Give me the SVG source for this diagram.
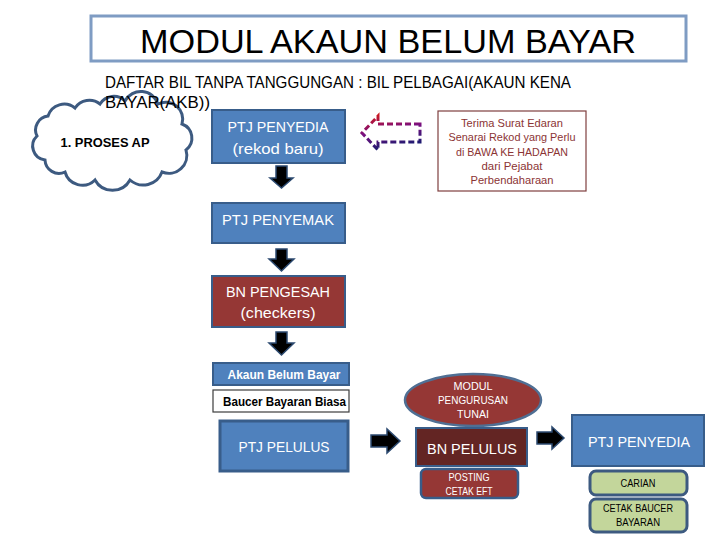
<svg xmlns="http://www.w3.org/2000/svg" width="720" height="540" viewBox="0 0 720 540">
<defs>
<style>
text{font-family:"Liberation Sans",Arial,sans-serif;}
.blue{fill:#4f81bd;stroke:#385d8a;stroke-width:2;}
.red{fill:#953735;stroke:#385d8a;stroke-width:2;}
.wt{fill:#ffffff;text-anchor:middle;}
.bk{fill:#000000;text-anchor:middle;}
.arr{fill:#000000;stroke:#2c4a70;stroke-width:1.5;}
.tr{fill:#8b3434;text-anchor:middle;font-size:11px;}
.green{fill:#c3d69b;stroke:#3d5a80;stroke-width:3;}
</style>
<linearGradient id="grad" x1="0" y1="0" x2="0.3" y2="1">
<stop offset="0" stop-color="#d01818"/>
<stop offset="0.5" stop-color="#7a1080"/>
<stop offset="1" stop-color="#1c1a70"/>
</linearGradient>
</defs>
<rect width="720" height="540" fill="#ffffff"/>

<g id="title">
<rect x="91" y="16" width="595" height="45" fill="#ffffff" stroke="#7f9cc3" stroke-width="3"/>
<text x="388" y="53" font-size="34" text-anchor="middle" textLength="496" lengthAdjust="spacingAndGlyphs" fill="#000">MODUL AKAUN BELUM BAYAR</text>
</g>

<g id="cloud">
<path d="M45,160 A14,14 0 0 1 37,136 A14,14 0 0 1 48,116 A17,17 0 0 1 75,108 A17,17 0 0 1 100,104 A16,16 0 0 1 125,101 A18,18 0 0 1 158,104 A17,17 0 0 1 182,124 A15,15 0 0 1 186,150 A18,18 0 0 1 162,172 A20,20 0 0 1 130,180 A20,20 0 0 1 95,180 A18,18 0 0 1 65,172 A14,14 0 0 1 45,160 Z" fill="#ffffff" stroke="#3d5a80" stroke-width="3"/>
<text x="105" y="147" font-size="13" font-weight="bold" text-anchor="middle" textLength="89" lengthAdjust="spacingAndGlyphs" fill="#000">1. PROSES AP</text>
</g>

<g id="subtitle">
<text x="105" y="88" font-size="16" textLength="466" lengthAdjust="spacingAndGlyphs" fill="#000">DAFTAR BIL TANPA TANGGUNGAN : BIL PELBAGAI(AKAUN KENA</text>
<text x="105" y="108" font-size="16" textLength="105" lengthAdjust="spacingAndGlyphs" fill="#000">BAYAR(AKB))</text>
</g>

<g id="ptj-penyedia-baru">
<rect class="blue" x="212" y="110" width="133" height="53"/>
<text class="wt" x="278" y="132" font-size="15" textLength="101" lengthAdjust="spacingAndGlyphs">PTJ PENYEDIA</text>
<text class="wt" x="278" y="154" font-size="15" textLength="91" lengthAdjust="spacingAndGlyphs">(rekod baru)</text>
</g>

<g id="terima">
<rect x="438" y="111" width="148" height="80" fill="#ffffff" stroke="#7f3f3f" stroke-width="1.2"/>
<text class="tr" x="512" y="127" textLength="102" lengthAdjust="spacingAndGlyphs">Terima Surat Edaran</text>
<text class="tr" x="512" y="141" textLength="127" lengthAdjust="spacingAndGlyphs">Senarai Rekod yang Perlu</text>
<text class="tr" x="512" y="156" textLength="112" lengthAdjust="spacingAndGlyphs">di BAWA KE HADAPAN</text>
<text class="tr" x="512" y="170" textLength="61" lengthAdjust="spacingAndGlyphs">dari Pejabat</text>
<text class="tr" x="512" y="184" textLength="83" lengthAdjust="spacingAndGlyphs">Perbendaharaan</text>
</g>

<g id="ptj-penyemak">
<rect class="blue" x="212" y="203" width="133" height="40"/>
<text class="wt" x="278" y="225" font-size="15" textLength="112" lengthAdjust="spacingAndGlyphs">PTJ PENYEMAK</text>
</g>

<g id="bn-pengesah">
<rect class="red" x="212" y="276" width="133" height="51"/>
<text class="wt" x="278" y="297" font-size="15" textLength="104" lengthAdjust="spacingAndGlyphs">BN PENGESAH</text>
<text class="wt" x="278" y="318" font-size="15" textLength="75" lengthAdjust="spacingAndGlyphs">(checkers)</text>
</g>

<g id="akaun-belum-bayar">
<rect class="blue" x="213" y="363" width="136" height="22"/>
<text class="wt" x="284" y="379" font-size="12" font-weight="bold" textLength="113" lengthAdjust="spacingAndGlyphs">Akaun Belum Bayar</text>
</g>

<g id="baucer-bayaran-biasa">
<rect x="213" y="390" width="136" height="22" fill="#ffffff" stroke="#3d3d3d" stroke-width="1.2"/>
<text class="bk" x="284.5" y="406" font-size="12" font-weight="bold" textLength="123" lengthAdjust="spacingAndGlyphs">Baucer Bayaran Biasa</text>
</g>

<g id="ptj-pelulus">
<rect x="220" y="421" width="128" height="50" fill="#4f81bd" stroke="#385d8a" stroke-width="3"/>
<text class="wt" x="284" y="452" font-size="15" textLength="91" lengthAdjust="spacingAndGlyphs">PTJ PELULUS</text>
</g>

<g id="modul-pengurusan-tunai">
<ellipse cx="473" cy="400" rx="68" ry="26" fill="#953735" stroke="#4f6f94" stroke-width="2.5"/>
<text class="wt" x="473" y="390" font-size="10.5" textLength="39" lengthAdjust="spacingAndGlyphs">MODUL</text>
<text class="wt" x="473" y="404" font-size="10.5" textLength="70" lengthAdjust="spacingAndGlyphs">PENGURUSAN</text>
<text class="wt" x="473" y="418" font-size="10.5" textLength="32" lengthAdjust="spacingAndGlyphs">TUNAI</text>
</g>

<g id="bn-pelulus">
<rect x="416" y="428" width="111" height="38" fill="#632523" stroke="#385d8a" stroke-width="2"/>
<text class="wt" x="472" y="454" font-size="15" textLength="90" lengthAdjust="spacingAndGlyphs">BN PELULUS</text>
</g>

<g id="posting-cetak-eft">
<rect x="421" y="469" width="97" height="29" rx="5" fill="#953735" stroke="#385d8a" stroke-width="2.5"/>
<text class="wt" x="469" y="481" font-size="10" textLength="41" lengthAdjust="spacingAndGlyphs">POSTING</text>
<text class="wt" x="469" y="495" font-size="10" textLength="47" lengthAdjust="spacingAndGlyphs">CETAK EFT</text>
</g>

<g id="ptj-penyedia">
<rect class="blue" x="572" y="415" width="132" height="51"/>
<text class="wt" x="639" y="447" font-size="15" textLength="102" lengthAdjust="spacingAndGlyphs">PTJ PENYEDIA</text>
</g>

<g id="carian">
<rect class="green" x="590" y="471" width="97" height="24" rx="6"/>
<text class="bk" x="638" y="487" font-size="10" textLength="35" lengthAdjust="spacingAndGlyphs">CARIAN</text>
</g>

<g id="cetak-baucer-bayaran">
<rect class="green" x="590" y="499" width="97" height="33" rx="6"/>
<text class="bk" x="638" y="512" font-size="10" textLength="70" lengthAdjust="spacingAndGlyphs">CETAK BAUCER</text>
<text class="bk" x="638" y="526" font-size="10" textLength="44" lengthAdjust="spacingAndGlyphs">BAYARAN</text>
</g>

<g id="connectors">
<path d="M420,124 L378,124 L378,116 L362,133 L378,150 L378,142 L420,142 Z" fill="#ffffff" stroke="url(#grad)" stroke-width="3" stroke-dasharray="6,3"/>
<path class="arr" d="M276,166 L287,166 L287,178 L293,178 L281.5,188 L270,178 L276,178 Z"/>
<path class="arr" d="M276,249 L287,249 L287,259 L294,259 L281.5,271 L269,259 L276,259 Z"/>
<path class="arr" d="M276,332 L287,332 L287,343 L294,343 L281.5,355 L269,343 L276,343 Z"/>
<path class="arr" d="M371,435 L387,435 L387,429 L400,441 L387,453 L387,447 L371,447 Z"/>
<path class="arr" d="M537,432 L552,432 L552,427 L564,438 L552,449 L552,444 L537,444 Z"/>
</g>
</svg>
